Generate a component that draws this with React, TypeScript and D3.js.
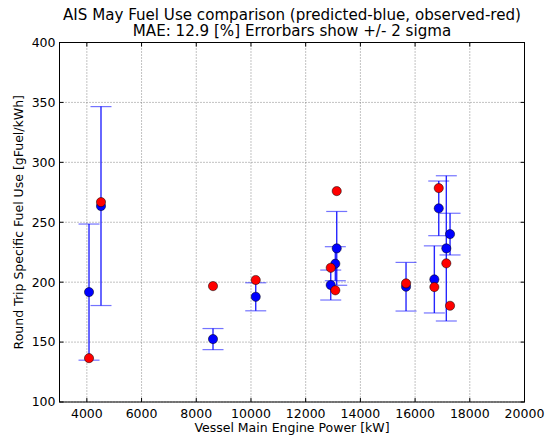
import React from "react";
import * as d3 from "d3";

// vessel engine power [kW] and round trip specific fuel use [gFuel/kWh]
const enginePower = [4079, 4517, 8612, 10174, 12916, 13084, 13135, 15669, 16704, 16865, 17142, 17278];
const predicted = [191.7, 263.5, 152.5, 187.8, 197.6, 215.4, 228.2, 196.2, 202.3, 261.6, 228.2, 240.1];
const observed = [136.6, 266.8, 196.7, 201.8, 212.0, 193.2, 276.0, 199.0, 195.9, 278.5, 215.7, 180.3];
const twoSigma = [56.8, 83.0, 8.8, 11.7, 12.5, 14.2, 30.8, 20.3, 28.0, 22.8, 60.6, 17.4];

const xTicks = [4000, 6000, 8000, 10000, 12000, 14000, 16000, 18000, 20000];
const yTicks = [100, 150, 200, 250, 300, 350, 400];

const titleLines = [
  "AIS May Fuel Use comparison (predicted-blue, observed-red)",
  "MAE: 12.9 [%] Errorbars show +/- 2 sigma",
];

const width = 547;
const height = 435;
const margin = { top: 42.5, right: 22.5, bottom: 33, left: 59.5 };
const font = "DejaVu Sans, sans-serif";

export default function App() {
  const x = d3.scaleLinear().domain([3000, 20000]).range([margin.left, width - margin.right]);
  const y = d3.scaleLinear().domain([100, 400]).range([height - margin.bottom, margin.top]);
  const [x0, x1] = x.range();
  const [y0, y1] = y.range();
  const cap = 10.5;

  return (
    <svg
      width={width}
      height={height}
      style={{ position: "absolute", left: 0, top: 0, background: "#fff" }}
      fontFamily={font}
    >
      <rect x={0} y={0} width={width} height={height} fill="#fff" />

      {/* title */}
      {titleLines.map((t, i) => (
        <text key={t} x={(x0 + x1) / 2} y={19.5 + i * 16.5} textAnchor="middle" fontSize={15.1} fill="#000">
          {t}
        </text>
      ))}

      {/* grid */}
      {xTicks.map(t => (
        <line key={"gx" + t} x1={x(t)} x2={x(t)} y1={y1} y2={y0} stroke="#666" strokeWidth={0.8} strokeDasharray="1,2" />
      ))}
      {yTicks.map(t => (
        <line key={"gy" + t} x1={x0} x2={x1} y1={y(t)} y2={y(t)} stroke="#666" strokeWidth={0.8} strokeDasharray="1,2" />
      ))}

      {/* error bars */}
      {enginePower.map((p, i) => {
        const cx = x(p);
        const top = y(predicted[i] + twoSigma[i]);
        const bot = y(predicted[i] - twoSigma[i]);
        return (
          <g key={"eb" + i} stroke="#0000ff">
            <line x1={cx} x2={cx} y1={top} y2={bot} strokeWidth={1.4} strokeOpacity={0.85} />
            <line x1={cx - cap} x2={cx + cap} y1={top} y2={top} strokeWidth={1.2} strokeOpacity={0.55} />
            <line x1={cx - cap} x2={cx + cap} y1={bot} y2={bot} strokeWidth={1.2} strokeOpacity={0.55} />
          </g>
        );
      })}

      {/* predicted */}
      {enginePower.map((p, i) => (
        <circle key={"p" + i} cx={x(p)} cy={y(predicted[i])} r={4.6} fill="#0000ff" stroke="#000" strokeWidth={0.5} />
      ))}
      {/* observed */}
      {enginePower.map((p, i) => (
        <circle key={"o" + i} cx={x(p)} cy={y(observed[i])} r={4.6} fill="#ff0000" stroke="#000" strokeWidth={0.5} />
      ))}

      {/* ticks, inside on all sides */}
      {xTicks.map(t => (
        <g key={"tx" + t} stroke="#000" strokeWidth={1}>
          <line x1={x(t)} x2={x(t)} y1={y0} y2={y0 - 4} />
          <line x1={x(t)} x2={x(t)} y1={y1} y2={y1 + 4} />
        </g>
      ))}
      {yTicks.map(t => (
        <g key={"ty" + t} stroke="#000" strokeWidth={1}>
          <line x1={x0} x2={x0 + 4} y1={y(t)} y2={y(t)} />
          <line x1={x1} x2={x1 - 4} y1={y(t)} y2={y(t)} />
        </g>
      ))}

      {/* frame */}
      <rect x={x0} y={y1} width={x1 - x0} height={y0 - y1} fill="none" stroke="#000" strokeWidth={1} />

      {/* tick labels */}
      {xTicks.map(t => (
        <text key={"lx" + t} x={x(t)} y={y0 + 15.5} textAnchor="middle" fontSize={12.5}>
          {t}
        </text>
      ))}
      {yTicks.map(t => (
        <text key={"ly" + t} x={x0 - 4} y={y(t)} dy="0.35em" textAnchor="end" fontSize={12.5}>
          {t}
        </text>
      ))}

      {/* axis labels */}
      <text x={(x0 + x1) / 2} y={y0 + 30} textAnchor="middle" fontSize={12.5}>
        Vessel Main Engine Power [kW]
      </text>
      <text
        transform={`translate(23,${(y0 + y1) / 2}) rotate(-90)`}
        textAnchor="middle"
        fontSize={12.5}
      >
        Round Trip Specific Fuel Use [gFuel/kWh]
      </text>
    </svg>
  );
}
